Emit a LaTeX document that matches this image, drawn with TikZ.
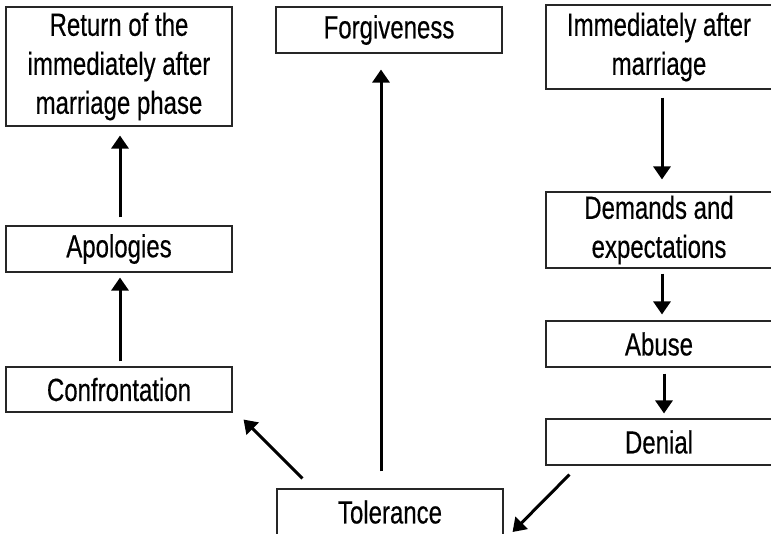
\documentclass[tikz,border=0pt]{standalone}
\usepackage{fontspec}
\setmainfont[FakeStretch=0.75,FakeBold=0.4]{Liberation Sans}
\usetikzlibrary{arrows.meta}
\tikzset{
  box/.style={draw=black!85, line width=1.1pt, minimum width=226pt, inner sep=0pt, align=center,
    font=\fontsize{32}{39}\selectfont, text=black},
  arr/.style={line width=3pt, -{Triangle[width=17pt,length=13pt]}}
}
\begin{document}
\begin{tikzpicture}[x=1pt,y=-1pt]
\useasboundingbox (0,0) rectangle (771,533);
\node[box, minimum height=119pt] (ret) at (119,66.5) {Return of the\\immediately after\\marriage phase};
\node[box, minimum height=46pt] (forg) at (389,30) {Forgiveness};
\node[box, minimum height=84pt] (imm) at (659,47) {Immediately after\\marriage};
\node[box, minimum height=76pt] (dem) at (659,230) {Demands and\\expectations};
\node[box, minimum height=46pt] (abu) at (659,344) {Abuse};
\node[box, minimum height=46pt] (den) at (659,442) {Denial};
\node[box, minimum height=46pt] (apo) at (119,249) {Apologies};
\node[box, minimum height=45pt] (con) at (119,389.5) {Confrontation};
\node[box, minimum height=46pt] (tol) at (390,512) {Tolerance};

\draw[arr] ([shift={(3pt,-8pt)}]imm.south) -- ([shift={(3pt,12pt)}]dem.north);
\draw[arr] ([shift={(3pt,-5pt)}]dem.south) -- ([shift={(3pt,6pt)}]abu.north);
\draw[arr] ([shift={(5pt,-6pt)}]abu.south) -- ([shift={(5pt,5pt)}]den.north);
\draw[arr] ([shift={(1pt,5pt)}]con.north) -- ([shift={(1pt,-5pt)}]apo.south);
\draw[arr] ([shift={(1pt,8pt)}]apo.north) -- ([shift={(1pt,-9pt)}]ret.south);
\draw[arr] ([shift={(-9pt,17pt)}]tol.north) -- ([shift={(-8pt,-16pt)}]forg.south);
\draw[arr] ([shift={(26pt,10pt)}]tol.north west) -- ([shift={(11pt,-7pt)}]con.south east);
\draw[arr] ([shift={(24pt,-9pt)}]den.south west) -- ([shift={(9pt,-20pt)}]tol.east);
\end{tikzpicture}
\end{document}
